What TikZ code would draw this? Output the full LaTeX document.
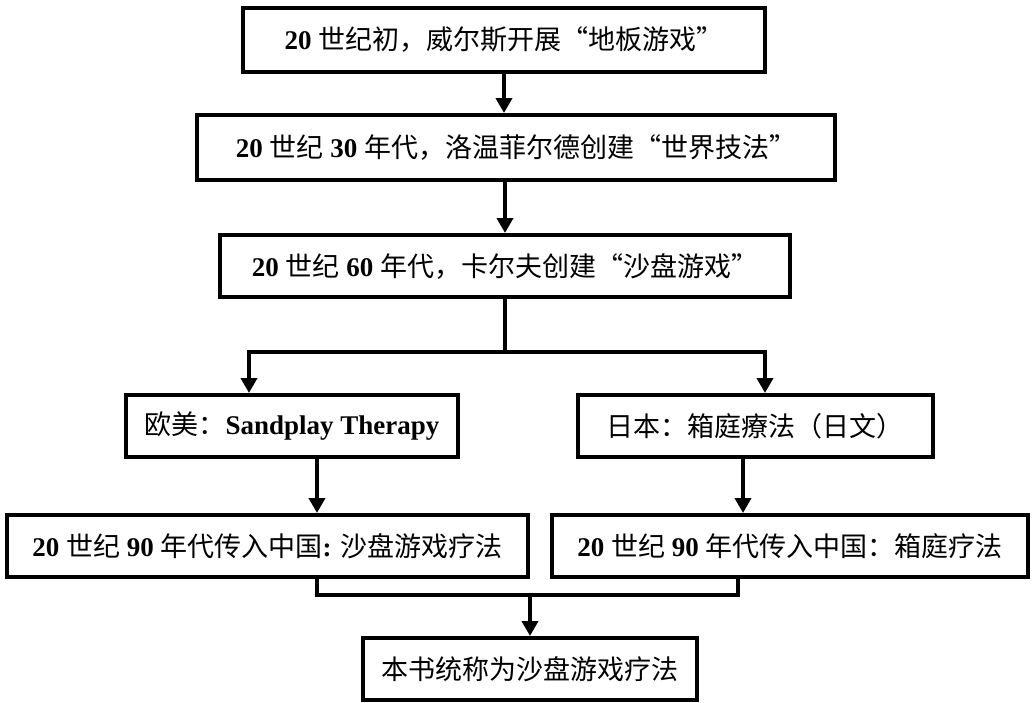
\documentclass[tikz,border=0pt]{standalone}
\usepackage{fontspec}
\setmainfont{Liberation Serif}
\newfontfamily\cjk{Noto Sans CJK SC}
\usetikzlibrary{arrows.meta}
\begin{document}
\begin{tikzpicture}[x=1pt,y=-1pt,
  box/.style={draw=black, line width=4pt, fill=white, inner sep=0pt, font=\fontsize{27}{32}\selectfont},
  conn/.style={line width=4pt},
  arr/.style={line width=4pt, -{Triangle[width=16pt,length=15pt]}}]
\useasboundingbox (0,0) rectangle (1036,702);
\node[box, minimum width=522, minimum height=64] (B1) at (504,40) {\textbf{20} {\cjk 世纪初，威尔斯开展“地板游戏”}};
\node[box, minimum width=638, minimum height=65] (B2) at (516,147.5) {\textbf{20} {\cjk 世纪} \textbf{30} {\cjk 年代，洛温菲尔德创建“世界技法”}};
\node[box, minimum width=570, minimum height=62] (B3) at (505,266) {\textbf{20} {\cjk 世纪} \textbf{60} {\cjk 年代，卡尔夫创建“沙盘游戏”}};
\node[box, minimum width=332, minimum height=62] (B4) at (292,426) {{\cjk 欧美：}\textbf{Sandplay Therapy}};
\node[box, minimum width=355, minimum height=62] (B5) at (755,426) {{\cjk 日本：箱庭療法（日文）}};
\node[box, minimum width=521, minimum height=62] (B6) at (267.5,546) {\textbf{20} {\cjk 世纪} \textbf{90} {\cjk 年代传入中国}\textbf{:} {\cjk 沙盘游戏疗法}};
\node[box, minimum width=476, minimum height=62] (B7) at (790,546) {\textbf{20} {\cjk 世纪} \textbf{90} {\cjk 年代传入中国：箱庭疗法}};
\node[box, minimum width=334, minimum height=62] (B8) at (530,669) {{\cjk 本书统称为沙盘游戏疗法}};
\coordinate (split) at (505,352);
\coordinate (L) at (249,352);
\coordinate (R) at (765,352);
\coordinate (a4) at (317,0);
\coordinate (a5) at (743,0);
\coordinate (jl) at (317,595);
\coordinate (jr) at (738,595);
\coordinate (jm) at (530,595);
\draw[arr] (B1.south) -- (B1.south |- B2.north);
\draw[arr] (B3.north |- B2.south) -- (B3.north);
\draw[conn] (B3.south) -- (split);
\draw[conn, line cap=rect] (L) -- (R);
\draw[arr] (L) -- (L |- B4.north);
\draw[arr] (R) -- (R |- B5.north);
\draw[arr] (a4 |- B4.south) -- (a4 |- B6.north);
\draw[arr] (a5 |- B5.south) -- (a5 |- B7.north);
\draw[conn, line cap=rect] (jl |- B6.south) -- (jl) -- (jr) -- (jr |- B7.south);
\draw[arr] (jm) -- (B8.north -| jm);
\end{tikzpicture}
\end{document}
